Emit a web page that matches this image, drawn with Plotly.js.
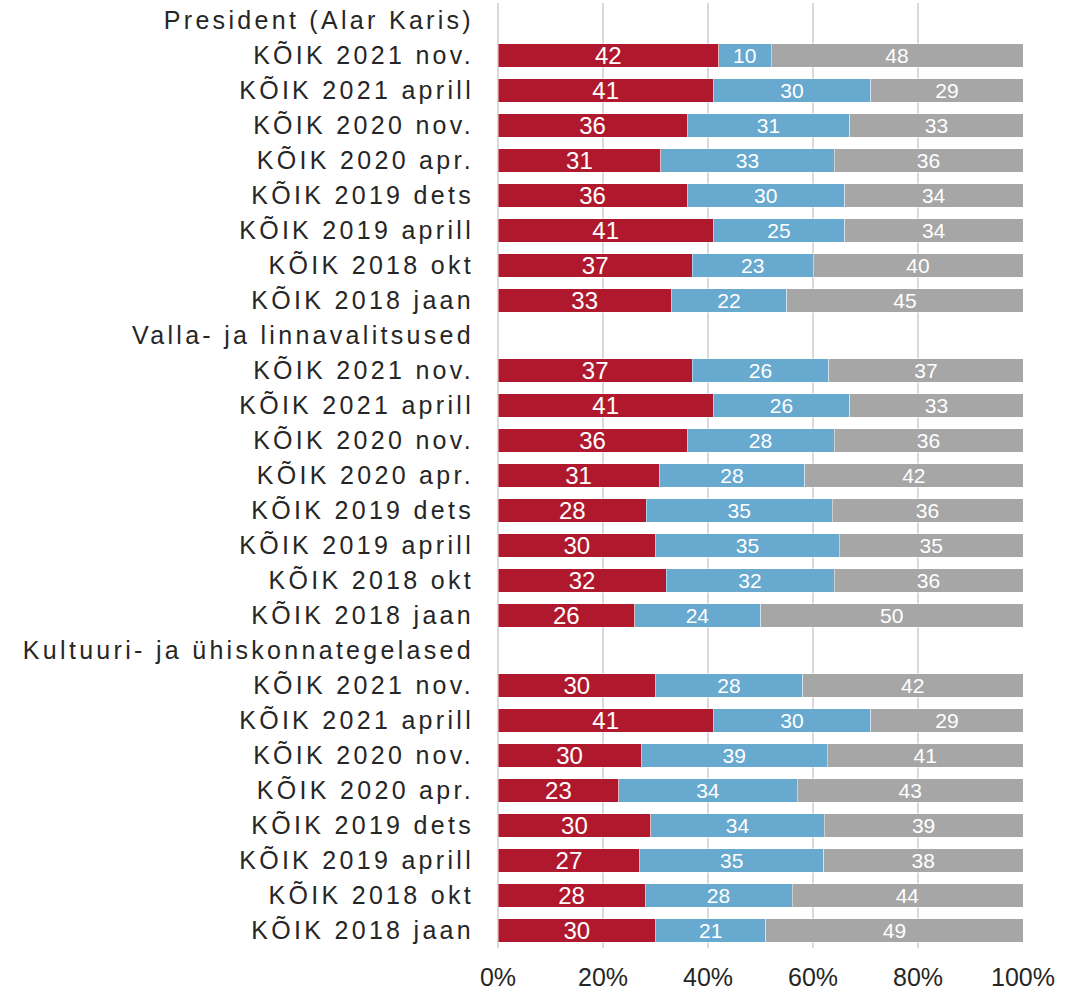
<!DOCTYPE html>
<html>
<head>
<meta charset="utf-8">
<script src="https://cdn.plot.ly/plotly-3.0.1.min.js"></script>
<style>
  html, body { margin: 0; padding: 0; background: #fff; }
  #chart { width: 1081px; height: 992px; }
  .ytick text { letter-spacing: 3.3px; }
</style>
</head>
<body>
<div id="chart"></div>
<script>
// Group headers and survey periods (top to bottom)
const groups = ['President (Alar Karis)', 'Valla- ja linnavalitsused', 'Kultuuri- ja ühiskonnategelased'];
const periods = ['KÕIK 2021 nov.', 'KÕIK 2021 aprill', 'KÕIK 2020 nov.', 'KÕIK 2020 apr.',
                 'KÕIK 2019 dets', 'KÕIK 2019 aprill', 'KÕIK 2018 okt', 'KÕIK 2018 jaan'];

// Values per group (in period order)
const presidentRed  = [42, 41, 36, 31, 36, 41, 37, 33];
const presidentBlue = [10, 30, 31, 33, 30, 25, 23, 22];
const presidentGrey = [48, 29, 33, 36, 34, 34, 40, 45];

const vallaRed  = [37, 41, 36, 31, 28, 30, 32, 26];
const vallaBlue = [26, 26, 28, 28, 35, 35, 32, 24];
const vallaGrey = [37, 33, 36, 42, 36, 35, 36, 50];

const kultuurRed  = [30, 41, 30, 23, 30, 27, 28, 30];
const kultuurBlue = [28, 30, 39, 34, 34, 35, 28, 21];
const kultuurGrey = [42, 29, 41, 43, 39, 38, 44, 49];

const seriesNames = ['Usaldab', 'Ei oska öelda', 'Ei usalda'];
const colors = ['#B0192D', '#67A9CF', '#A6A6A6'];

const groupData = [
  [presidentRed, presidentBlue, presidentGrey],
  [vallaRed, vallaBlue, vallaGrey],
  [kultuurRed, kultuurBlue, kultuurGrey]
];

// Build rows
const labels = [];
const seriesVals = [[], [], []];
groups.forEach((g, gi) => {
  labels.push(g);
  for (let s = 0; s < 3; s++) seriesVals[s].push(null);
  periods.forEach((p, pi) => {
    labels.push(p);
    for (let s = 0; s < 3; s++) seriesVals[s].push(groupData[gi][s][pi]);
  });
});
const yIdx = labels.map((_, i) => i);
const nRows = labels.length;

const textSizes = [24, 21, 21];
const traces = seriesVals.map((vals, s) => ({
  type: 'bar',
  orientation: 'h',
  name: seriesNames[s],
  x: vals,
  y: yIdx,
  text: vals.map(v => v === null ? '' : String(v)),
  texttemplate: '%{text}',
  textposition: 'inside',
  insidetextanchor: 'middle',
  textangle: 0,
  constraintext: 'none',
  textfont: { color: '#FFFFFF', size: textSizes[s], family: 'Liberation Sans, Arial, sans-serif' },
  marker: { color: colors[s], line: { color: 'rgba(255,255,255,0.55)', width: 0.8 } },
  hoverinfo: 'skip'
}));

const layout = {
  width: 1081,
  height: 992,
  margin: { l: 498, r: 58, t: 3, b: 44 },
  barmode: 'stack',
  barnorm: 'percent',
  bargap: 0.34,
  showlegend: false,
  paper_bgcolor: '#FFFFFF',
  plot_bgcolor: '#FFFFFF',
  font: { family: 'Liberation Sans, Arial, sans-serif', color: '#262626' },
  xaxis: {
    range: [0, 100],
    dtick: 20,
    ticksuffix: '%',
    showgrid: true,
    gridcolor: '#D9D9D9',
    gridwidth: 1.5,
    zeroline: true,
    zerolinecolor: '#D9D9D9',
    zerolinewidth: 1.5,
    showline: false,
    ticks: 'outside',
    ticklen: 7,
    tickcolor: 'rgba(0,0,0,0)',
    tickfont: { size: 25, color: '#262626' },
    fixedrange: true
  },
  yaxis: {
    range: [nRows - 0.5, -0.5],
    tickvals: yIdx,
    ticktext: labels,
    showgrid: false,
    zeroline: false,
    ticks: 'outside',
    ticklen: 18,
    tickcolor: 'rgba(0,0,0,0)',
    tickfont: { size: 25, color: '#262626' },
    fixedrange: true
  }
};

Plotly.newPlot('chart', traces, layout, { displayModeBar: false, staticPlot: true });
</script>
</body>
</html>
